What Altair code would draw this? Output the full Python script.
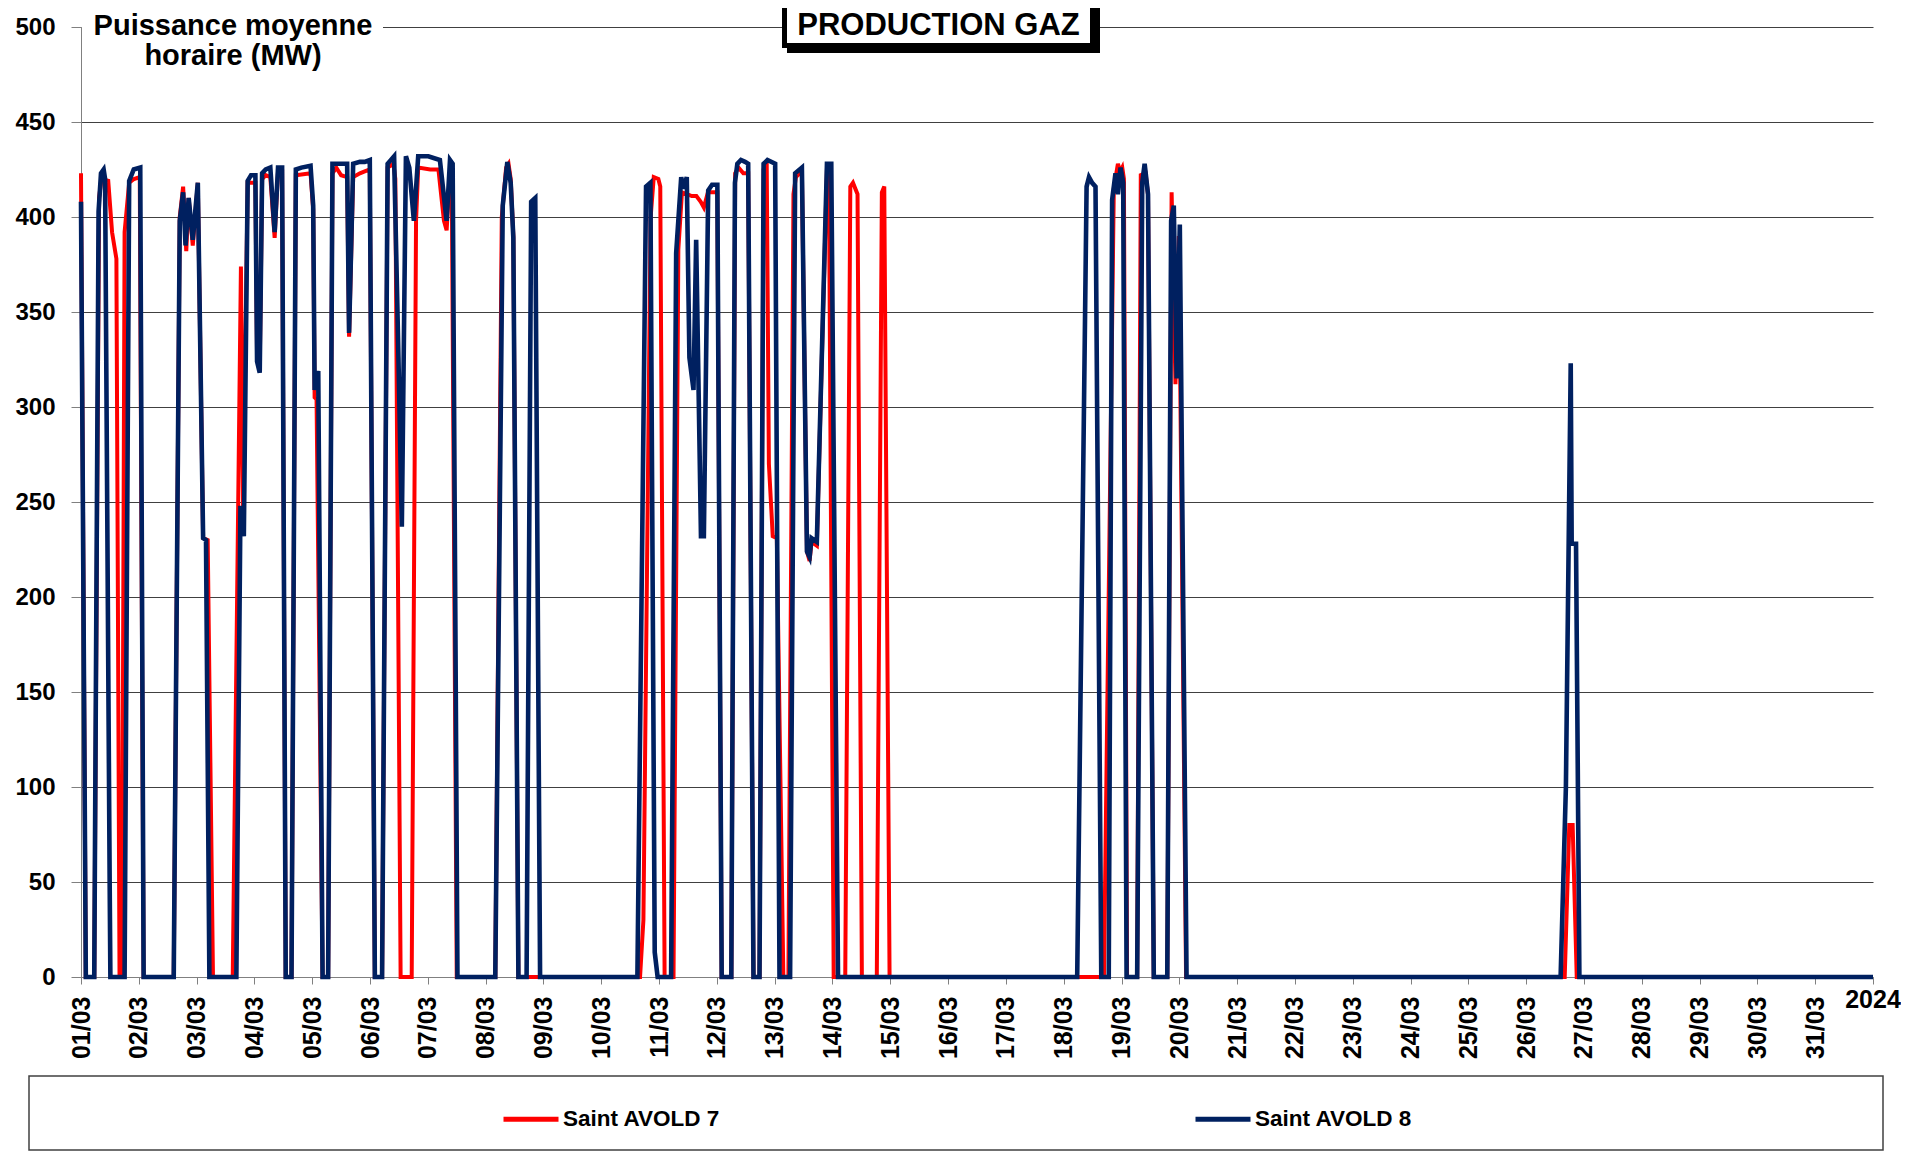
import altair as alt
import pandas as pd

# ---------------- data ----------------
series_names = ["Saint AVOLD 7", "Saint AVOLD 8"]
series_colors = ["#FF0000", "#002060"]

# hours since 01/03 00:00 and hourly mean power (MW)
s7_hours = [0, 2, 5.5, 7.5, 8.5, 11.3, 12.9, 14.7, 16, 17, 18.1, 20, 22, 24.4, 26,
            38.5, 41, 42.4, 43.7, 44.7, 46.4, 48.5, 50.7, 52.6, 54.8,
            63, 66.4, 67.3, 69.2, 72.4, 73.1, 74.2, 75.2, 76.7, 78.6, 80.4, 81.8, 83.5, 85,
            87.4, 89.2, 95.3, 96.4, 97, 97.8, 100.3,
            102.6, 104.4, 106, 108, 110.5, 111.3, 113, 115.8, 117.8, 119.9, 122,
            125, 127.3, 129.7, 130.5, 132.7, 137.3, 139.1, 140, 145, 148.4, 150.7, 151.8, 153, 153.9, 156,
            172, 174.7, 176.5, 177.5, 178.4, 179.5, 181.6,
            232.1, 233.5, 236.5, 237.8, 239.7, 240.5, 242.3,
            246, 248, 249.5, 251.5, 253.6, 255.5, 257.3, 258.6, 260.3, 264.2, 266,
            270, 271.6, 273, 275, 277, 279.2,
            281.7, 283.4, 284.7, 285.6, 287.2, 288.9, 291.6,
            293.7, 295.8, 296.8, 299.3, 301.4, 302.5, 303.3, 305.5, 309.7, 310.5, 312.5,
            317.3, 319.4, 320.5, 322.4, 324.2, 330.4, 332.5, 333.5, 335.7,
            424.7, 428.8, 430.5, 431.5, 432.3, 433, 434.3,
            438.5, 440, 442, 443, 445.4, 451, 452.8, 454.4, 455.8, 458.8,
            616, 617.9, 619.3, 621, 744]
s7_mw = [423, 0, 0, 410, 420, 419, 392, 378, 0, 0, 392, 418, 420, 421, 0,
         0, 400, 416, 382, 410, 385, 418, 231, 230, 0,
         0, 374, 245, 418, 418, 326, 320, 420, 422, 421, 389, 424, 424, 0,
         0, 422, 423, 404, 305, 304, 0,
         0, 423, 426, 422, 421, 337, 421, 423, 424, 425, 0,
         0, 426, 428, 420, 0, 0, 398, 426, 425, 425, 398, 393, 420, 428, 0,
         0, 400, 426, 428, 420, 390, 0,
         0, 30, 400, 421, 420, 416, 0,
         0, 383, 413, 412, 411, 411, 408, 405, 413, 413, 0,
         0, 423, 426, 423, 423, 0,
         0, 425, 427, 270, 232, 231, 0,
         0, 412, 421, 424, 224, 219, 229, 227, 425, 426, 0,
         0, 416, 418, 412, 0, 0, 413, 416, 0,
         0, 415, 428, 424, 426, 420, 0,
         0, 422, 423, 412, 0, 0, 413, 312, 390, 0,
         0, 80, 80, 0, 0]

s8_hours = [0, 2, 5.5, 7.3, 8.3, 9.4, 10, 11.9, 12.2, 18.1, 20, 21.9, 24.6, 26,
            38.5, 41, 42.4, 43.4, 44.7, 46.4, 48.5, 50.7, 51.9, 53.3,
            64.5, 66.2, 67.6, 69.2, 70.6, 72.4, 73.1, 74.2, 75.2, 76.7, 78.6, 80.4, 81.8, 83.5, 85,
            87.4, 89.2, 91.5, 95.3, 96.4, 97, 98.5, 100.3,
            102.6, 104.4, 110.5, 111.3, 113, 115.8, 117.8, 119.9, 122,
            125, 127.3, 130, 131.8, 133.2, 134.9, 136.3, 138.2, 140, 144.2, 149, 151.8, 153.2, 154.3, 156.3,
            172, 175.1, 177, 178.4, 179.5, 181.6,
            185, 186.9, 188.6, 190.6,
            231, 234.6, 236.4, 238.2, 239.4,
            245, 247.1, 249.2, 250, 251.5, 252.6, 254.3, 255.4, 257.4, 258.6, 260.4, 262, 264.2, 266,
            270, 271.5, 272.5, 274, 275.7, 277, 279.2,
            281.7, 283.4, 285, 288.2, 290,
            294.4, 296.5, 299.3, 301.4, 302.5, 303.3, 305.5, 309.7, 311.5, 314.3,
            413.6, 417.5, 418.5, 419.8, 421.2, 423.6,
            426.7, 428.1, 429.5, 430.5, 431.6, 432.7, 434.1,
            438.5, 440.6, 441.6, 443, 445.4,
            451, 452.6, 453.7, 454.9, 456.2, 459,
            614.3, 616.5, 618.5, 618.9, 620.7, 622.1, 744]
s8_mw = [408, 0, 0, 403, 423, 425, 420, 50, 0, 0, 419, 425, 426, 0,
         0, 398, 413, 385, 410, 388, 418, 231, 230, 0,
         0, 248, 232, 419, 422, 422, 324, 318, 423, 425, 426, 392, 426, 426, 0,
         0, 425, 426, 427, 406, 309, 319, 0,
         0, 428, 428, 339, 428, 429, 429, 430, 0,
         0, 428, 432, 326, 237, 432, 426, 398, 432, 432, 430, 398, 430, 428, 0,
         0, 406, 429, 418, 389, 0,
         0, 408, 410, 0,
         0, 416, 418, 13, 0,
         0, 381, 421, 415, 421, 326, 309, 388, 232, 232, 414, 417, 417, 0,
         0, 418, 428, 430, 429, 428, 0,
         0, 428, 430, 428, 0,
         0, 423, 426, 224, 221, 231, 229, 428, 428, 0,
         0, 416, 421, 418, 416, 0,
         0, 409, 423, 412, 426, 418, 0,
         0, 418, 428, 412, 0,
         0, 398, 406, 315, 396, 0,
         0, 100, 323, 228, 228, 0, 0]

tick_hours = [24 * d for d in range(32)]
tick_labels = ["01/03", "02/03", "03/03", "04/03", "05/03", "06/03", "07/03", "08/03",
               "09/03", "10/03", "11/03", "12/03", "13/03", "14/03", "15/03", "16/03",
               "17/03", "18/03", "19/03", "20/03", "21/03", "22/03", "23/03", "24/03",
               "25/03", "26/03", "27/03", "28/03", "29/03", "30/03", "31/03", ""]
year_label = "2024"
y_ticks = [0, 50, 100, 150, 200, 250, 300, 350, 400, 450, 500]
chart_title = "PRODUCTION GAZ"
y_title = ["Puissance moyenne", "horaire (MW)"]

FONT = "Liberation Sans"

df = pd.concat([
    pd.DataFrame({"h": s7_hours, "mw": s7_mw, "serie": series_names[0]}),
    pd.DataFrame({"h": s8_hours, "mw": s8_mw, "serie": series_names[1]}),
])

label_js = "[" + ",".join("'" + t + "'" for t in tick_labels) + "]"

x_enc = alt.X("h:Q",
              scale=alt.Scale(domain=[0, 744], nice=False, zero=False),
              axis=alt.Axis(values=tick_hours, labelExpr=f"{label_js}[round(datum.value/24)]",
                            labelAngle=270, labelAlign="right", labelBaseline="middle",
                            labelFont=FONT, labelFontSize=25, labelFontWeight="bold",
                            labelColor="black", labelPadding=12, labelOverlap=False,
                            labelFlush=False, domainColor="#808080", tickColor="#808080",
                            tickSize=7, grid=False, title=None))
y_enc = alt.Y("mw:Q",
              scale=alt.Scale(domain=[0, 500], nice=False),
              axis=alt.Axis(values=y_ticks, labelFont=FONT, labelFontSize=24,
                            labelFontWeight="bold", labelColor="black", labelPadding=16,
                            domainColor="#808080", tickColor="#808080", tickSize=10,
                            grid=True, gridColor="#404040", gridWidth=1, title=None))

legend = alt.Legend(orient="none", legendX=420, legendY=1062, direction="horizontal",
                    title=None, symbolType="stroke", symbolSize=3025, symbolStrokeWidth=5,
                    labelFont=FONT, labelFontSize=22.5, labelFontWeight="bold",
                    labelColor="black", labelLimit=600, labelOffset=2,
                    columnPadding=464, padding=0)
color_enc = alt.Color("serie:N", scale=alt.Scale(domain=series_names, range=series_colors),
                      legend=legend)

base = alt.Chart(df)
red = base.transform_filter(alt.datum.serie == series_names[0]).mark_line(
    strokeWidth=4, interpolate="linear").encode(x=x_enc, y=y_enc, color=color_enc)
blue = base.transform_filter(alt.datum.serie == series_names[1]).mark_line(
    strokeWidth=4.6, interpolate="linear").encode(x=x_enc, y=y_enc, color=color_enc)

one = alt.Chart(pd.DataFrame({"a": [0]}))

ytitle_bg = one.mark_rect(fill="white").encode(
    x=alt.value(1), x2=alt.value(302), y=alt.value(-27), y2=alt.value(50))
ytitle = one.mark_text(text=y_title, font=FONT, fontSize=29, fontWeight="bold",
                       align="center", baseline="alphabetic", lineHeight=30,
                       color="black").encode(x=alt.value(152), y=alt.value(8))

title_shadow = one.mark_rect(fill="black").encode(
    x=alt.value(706), x2=alt.value(1019), y=alt.value(-22), y2=alt.value(26))
title_box = one.mark_rect(fill="white", stroke="black", strokeWidth=5).encode(
    x=alt.value(703.5), x2=alt.value(1011.5), y=alt.value(-24.5), y2=alt.value(18.5))
title_txt = one.mark_text(text=chart_title, font=FONT, fontSize=31, fontWeight="bold",
                          align="center", baseline="alphabetic", color="black").encode(
    x=alt.value(857.5), y=alt.value(8))

year_txt = alt.Chart(pd.DataFrame({"h": [744]})).mark_text(
    text=year_label, font=FONT, fontSize=25, fontWeight="bold", align="center",
    baseline="alphabetic", color="black").encode(
    x=alt.X("h:Q", scale=alt.Scale(domain=[0, 744], nice=False, zero=False)),
    y=alt.value(981))

legend_box = one.mark_rect(fill="white", fillOpacity=0, stroke="#404040", strokeWidth=1.5).encode(
    x=alt.value(-52), x2=alt.value(1802), y=alt.value(1049), y2=alt.value(1123))

chart = alt.layer(
    legend_box, red, blue, ytitle_bg, ytitle, title_shadow, title_box, title_txt, year_txt
).properties(
    width=1792, height=950,
    autosize=alt.AutoSizeParams(type="none"),
    padding={"left": 73, "top": 19, "right": 28, "bottom": 174},
    background="white",
).configure_view(stroke=None)

chart.save("out.html", embed_options={"renderer": "svg", "actions": False})
